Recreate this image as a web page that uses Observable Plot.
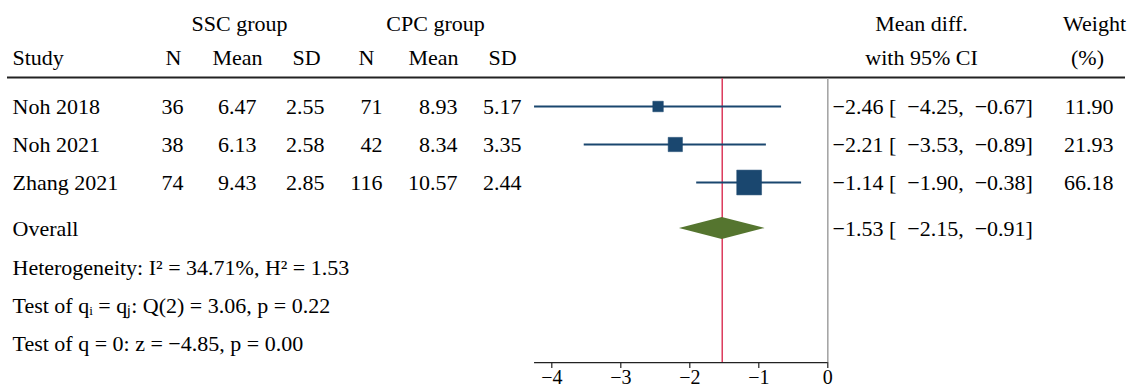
<!DOCTYPE html>
<html>
<head>
<meta charset="utf-8">
<script src="https://cdn.jsdelivr.net/npm/d3@7"></script>
<script src="https://cdn.jsdelivr.net/npm/@observablehq/plot@0.6"></script>
<style>
  html, body { margin: 0; padding: 0; background: #fff; overflow: hidden; }
</style>
</head>
<body>
<div id="chart"></div>
<script>
// ---------- data ----------
const studies   = ["Noh 2018", "Noh 2021", "Zhang 2021"];
const sscN      = [36, 38, 74];
const sscMean   = [6.47, 6.13, 9.43];
const sscSD     = [2.55, 2.58, 2.85];
const cpcN      = [71, 42, 116];
const cpcMean   = [8.93, 8.34, 10.57];
const cpcSD     = [5.17, 3.35, 2.44];
const meanDiff  = [-2.46, -2.21, -1.14];
const ciLow     = [-4.25, -3.53, -1.90];
const ciHigh    = [-0.67, -0.89, -0.38];
const weights   = [11.90, 21.93, 66.18];
const overall   = {label: "Overall", md: -1.53, lo: -2.15, hi: -0.91};
const statLines = [
  "Heterogeneity: I\u00B2 = 34.71%, H\u00B2 = 1.53",
  "Test of q\u1D62 = q\u2C7C: Q(2) = 3.06, p = 0.22",
  "Test of q = 0: z = \u22124.85, p = 0.00"
];
const xTicks = [-4, -3, -2, -1, 0];
const groupHeaders = ["SSC group", "CPC group"];
const colHeaders = ["N", "Mean", "SD", "N", "Mean", "SD"];
const rightHeaders = [["Mean diff.", "with 95% CI"], ["Weight", "(%)"]];

// ---------- layout (pixels / row units) ----------
const L = {
  row0: 106, rowStep: 38,
  r: {group: -2.16, head: -1.29, rule: -0.76, overall: 3.21, het: 4.24, axis: 6.74},
  xZeroPx: 827.3, unitPx: 69,
  colRight: [183, 256, 324, 382, 457, 521],
  colCenter: [173, 237, 306, 366, 433, 502],
  groupCenter: [239, 435],
  studyX: 12, ciX: 832, weightRight: 1113,
  rightCenter: [[921, 921], [1094, 1087]],
  diamondHalf: 11 / 38,
  tickLen: 6, tickLabelDy: 15, tickFont: 20, font: 22
};
// convert a table column pixel position into x-scale units (so text goes through the x scale)
const px = p => (p - L.xZeroPx) / L.unitPx;

const fmt = v => (v < 0 ? "\u2212" : "") + Math.abs(v).toFixed(2);
const ciText = (m, lo, hi) => `${fmt(m)} [\u2002${fmt(lo)},\u2002${fmt(hi)}]`;
const rows = studies.map((s, i) => ({
  i, study: s,
  cells: [sscN[i], sscMean[i].toFixed(2), sscSD[i].toFixed(2), cpcN[i], cpcMean[i].toFixed(2), cpcSD[i].toFixed(2)],
  md: meanDiff[i], lo: ciLow[i], hi: ciHigh[i], w: weights[i],
  ci: ciText(meanDiff[i], ciLow[i], ciHigh[i])
}));

const navy = "#1a476f", green = "#55752f", red = "#dc3a5c", grey = "#a6a6a6";

const diamond = [
  {x: overall.lo, y1: L.r.overall, y2: L.r.overall},
  {x: overall.md, y1: L.r.overall - L.diamondHalf, y2: L.r.overall + L.diamondHalf},
  {x: overall.hi, y1: L.r.overall, y2: L.r.overall}
];

const T = (data, opts) => Plot.text(data, {fontSize: L.font, fill: "#000", ...opts});

const marks = [
  // header rule
  Plot.ruleY([L.r.rule], {stroke: "#222", strokeWidth: 2, insetLeft: 7, insetRight: 3}),
  // zero line and overall line
  Plot.ruleX([0], {y1: () => L.r.rule + 0.03, y2: () => L.r.axis, stroke: grey, strokeWidth: 1.6}),
  Plot.ruleX([overall.md], {y1: () => L.r.rule + 0.03, y2: () => L.r.axis, stroke: red, strokeWidth: 1.5}),
  // CIs and squares
  Plot.ruleY(rows, {y: "i", x1: "lo", x2: "hi", stroke: navy, strokeWidth: 2}),
  Plot.dot(rows, {x: "md", y: "i", r: "w", symbol: "square", fill: navy, stroke: navy, strokeWidth: 0.5}),
  // diamond
  Plot.areaY(diamond, {x: "x", y1: "y1", y2: "y2", fill: green}),
  // axis line, ticks and labels
  Plot.ruleY([L.r.axis], {x1: () => d3.min(ciLow), x2: () => 0, stroke: "#222", strokeWidth: 1.2}),
  Plot.ruleX(xTicks, {y1: () => L.r.axis, y2: () => L.r.axis + L.tickLen / L.rowStep, stroke: "#222", strokeWidth: 1.2}),
  T(xTicks, {x: d => d, y: () => L.r.axis, dy: L.tickLabelDy, fontSize: L.tickFont,
             text: d => (d < 0 ? "\u2212" + Math.abs(d) : String(d)), textAnchor: "middle"}),
  // header texts
  T(["Study"], {x: () => px(L.studyX), y: () => L.r.head, text: d => d, textAnchor: "start"}),
  // study rows
  T(rows, {x: () => px(L.studyX), y: "i", text: "study", textAnchor: "start"}),
  T(rows, {x: () => px(L.ciX), y: "i", text: "ci", textAnchor: "start"}),
  T(rows, {x: () => px(L.weightRight), y: "i", text: d => d.w.toFixed(2), textAnchor: "end"}),
  // overall + stats
  T([overall], {x: () => px(L.studyX), y: () => L.r.overall, text: "label", textAnchor: "start"}),
  T([overall], {x: () => px(L.ciX), y: () => L.r.overall, text: d => ciText(d.md, d.lo, d.hi), textAnchor: "start"}),
  T(statLines, {x: () => px(L.studyX), y: (d, i) => L.r.het + i, text: d => d, textAnchor: "start"})
];
groupHeaders.forEach((g, k) =>
  marks.push(T([g], {x: () => px(L.groupCenter[k]), y: () => L.r.group, text: d => d, textAnchor: "middle"})));
colHeaders.forEach((h, k) => {
  marks.push(T([h], {x: () => px(L.colCenter[k]), y: () => L.r.head, text: d => d, textAnchor: "middle"}));
  marks.push(T(rows, {x: () => px(L.colRight[k]), y: "i", text: d => String(d.cells[k]), textAnchor: "end"}));
});
rightHeaders.forEach((pair, k) => {
  marks.push(T([pair[0]], {x: () => px(L.rightCenter[k][0]), y: () => L.r.group, text: d => d, textAnchor: "middle"}));
  marks.push(T([pair[1]], {x: () => px(L.rightCenter[k][1]), y: () => L.r.head, text: d => d, textAnchor: "middle"}));
});

const chart = Plot.plot({
  width: 1128, height: 390,
  marginTop: 0, marginRight: 0, marginBottom: 0, marginLeft: 0,
  style: {fontFamily: "'Liberation Serif', 'Times New Roman', serif", fontSize: "22px", color: "#000", background: "#fff"},
  x: {domain: [-4, 0], range: [L.xZeroPx - 4 * L.unitPx, L.xZeroPx], axis: null},
  y: {domain: [0, 1], range: [L.row0, L.row0 + L.rowStep], axis: null},
  r: {type: "sqrt", domain: [0, d3.max(weights)], range: [0, 14]},
  marks
});
document.getElementById("chart").appendChild(chart);
</script>
</body>
</html>
